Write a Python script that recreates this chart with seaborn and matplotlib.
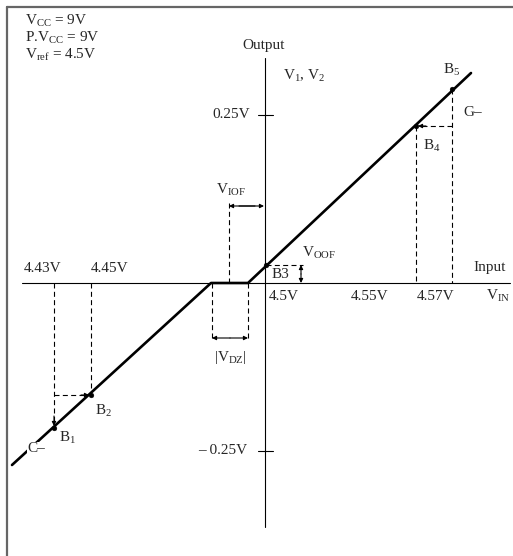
import numpy as np
import pandas as pd
import matplotlib.pyplot as plt
import seaborn as sns

# schematic units: origin where the two axes cross, roughly one unit per pixel
curve_x = [-253, -54, -17, 206]
curve_y = [-182, 0, 0, 210]

point_names = ['B1', 'B2', 'B3', 'B4', 'B5']
point_x = [-211, -174, 1, 151, 187]
point_y = [-145, -112, 18, 157, 194]

out_tick_y = [168, -168]
out_tick_labels = ['0.25V', '\u2013 0.25V']

in_labels_top = ['4.43V', '4.45V']
in_labels_top_x = [-222, -155]
in_labels_bot = ['4.5V', '4.55V', '4.57V']
in_labels_bot_x = [19, 105, 171]

deadzone_x = [-53, -17]
iof_x = -36
oof_x = 36

sns.set_theme(style='white')
plt.rcParams['font.family'] = ['Liberation Serif', 'DejaVu Serif']
plt.rcParams['mathtext.fontset'] = 'custom'
plt.rcParams['mathtext.rm'] = 'Liberation Serif'
plt.rcParams['mathtext.it'] = 'Liberation Serif:italic'

fig = plt.figure(figsize=(5.13, 5.56), dpi=100)
ax = fig.add_axes([0, 0, 1, 1])
ax.set_xlim(-265, 248)
ax.set_ylim(-273, 283)
ax.axis('off')

fs = 11
dash = (0, (4.5, 3))
k = 'black'

# frame (only left and top edges are inside the picture)
ax.plot([-258, -258], [-273, 276], color='#666666', lw=1.6)
ax.plot([-258, 248], [276, 276], color='#666666', lw=1.6)

# axes
ax.plot([-243, 245], [0, 0], color=k, lw=0.8)
ax.plot([0, 0], [225, -244], color=k, lw=0.8)
for ty, tl in zip(out_tick_y, out_tick_labels):
    ax.plot([-7, 8], [ty, ty], color=k, lw=0.8)
    ax.text(-15 if ty > 0 else -18, ty, tl, ha='right', va='center', fontsize=fs)

# transfer curve and break points
curve = pd.DataFrame({'x': curve_x, 'y': curve_y})
sns.lineplot(data=curve, x='x', y='y', ax=ax, color=k, lw=1.9, sort=False)
pts = pd.DataFrame({'x': point_x, 'y': point_y, 'name': point_names})
sns.scatterplot(data=pts, x='x', y='y', ax=ax, color=k, s=12, zorder=5, edgecolor=k)
ax.set_xlabel('')
ax.set_ylabel('')

def dline(xs, ys):
    ax.plot(xs, ys, color=k, lw=0.8, linestyle=dash)

def arrow(p0, p1, style='-|>'):
    ax.annotate('', xy=p1, xytext=p0,
                arrowprops=dict(arrowstyle=style, color=k, lw=0.8,
                                mutation_scale=6, shrinkA=0, shrinkB=0))

b1, b2, b3, b4, b5 = list(zip(point_x, point_y))

# left side dashed guides
dline([b1[0], b1[0]], [0, b1[1] + 4])
arrow((b1[0], b1[1] + 12), (b1[0], b1[1] + 2))
dline([b2[0], b2[0]], [0, b2[1]])
dline([b1[0], b2[0] - 6], [b2[1], b2[1]])
arrow((b2[0] - 10, b2[1]), (b2[0] - 2, b2[1]))

# right side dashed guides
dline([b4[0], b4[0]], [b4[1], 0])
dline([b5[0], b5[0]], [b5[1], 0])
dline([b5[0], b4[0] + 6], [b4[1], b4[1]])
arrow((b4[0] + 10, b4[1]), (b4[0] + 2, b4[1]))

# input offset
dline([iof_x, iof_x], [80, 0])
arrow((iof_x + 10, 77), (-1, 77))
arrow((-10, 77), (iof_x, 77))

# output offset
dline([b3[0], oof_x + 2], [b3[1], b3[1]])
arrow((oof_x, 9), (oof_x, b3[1]))
arrow((oof_x, 9), (oof_x, 0))

# dead zone
for dx in deadzone_x:
    dline([dx, dx], [0, -58])
arrow((sum(deadzone_x) / 2, -55), (deadzone_x[0], -55))
arrow((sum(deadzone_x) / 2, -55), (deadzone_x[1], -55))

# texts
ax.text(-240, 262, 'V$_{\\mathrm{CC}}$ = 9V', fontsize=fs, va='center')
ax.text(-240, 245, 'P.V$_{\\mathrm{CC}}$ = 9V', fontsize=fs, va='center')
ax.text(-240, 228, 'V$_{\\mathrm{ref}}$ = 4.5V', fontsize=fs, va='center')
ax.text(-1, 238, 'Output', fontsize=fs, ha='center', va='center')
ax.text(18, 207, 'V$_1$, V$_2$', fontsize=fs, va='center')
for lab, lx in zip(in_labels_top, in_labels_top_x):
    ax.text(lx, 15, lab, fontsize=fs, ha='center', va='center')
for lab, lx in zip(in_labels_bot, in_labels_bot_x):
    ax.text(lx, -13, lab, fontsize=fs, ha='center', va='center')
ax.text(225, 15, 'Input', fontsize=fs, ha='center', va='center')
ax.text(233, -13, 'V$_{\\mathrm{IN}}$', fontsize=fs, ha='center', va='center')
ax.text(-34, 93, 'V$_{\\mathrm{IOF}}$', fontsize=fs, ha='center', va='center')
ax.text(37, 30, 'V$_{\\mathrm{OOF}}$', fontsize=fs, va='center')
ax.text(7, 8, 'B3', fontsize=fs, va='center')
ax.text(-35, -74, '|V$_{\\mathrm{DZ}}$|', fontsize=fs, ha='center', va='center')
ax.text(b1[0] + 14, b1[1] - 10, 'B$_1$', fontsize=fs, ha='center', va='center')
ax.text(b2[0] + 12, b2[1] - 16, 'B$_2$', fontsize=fs, ha='center', va='center')
ax.text(b4[0] + 16, b4[1] - 20, 'B$_4$', fontsize=fs, ha='center', va='center')
ax.text(b5[0], b5[1] + 19, 'B$_5$', fontsize=fs, ha='center', va='center')
ax.text(198, 170, 'G\u2013', fontsize=fs, va='center')
ax.text(-229, -165, 'C\u2013', fontsize=fs, ha='center', va='center',
        bbox=dict(facecolor='white', edgecolor='none', pad=0))

fig.savefig('out.png', dpi=100)
